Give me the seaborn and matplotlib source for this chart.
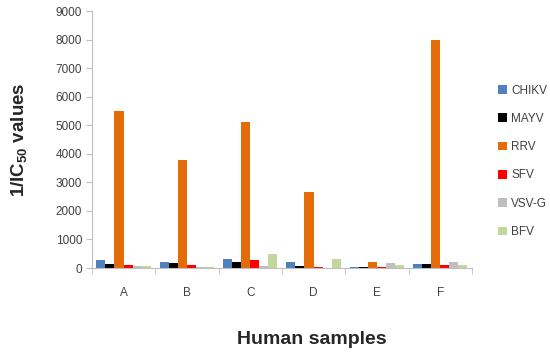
import matplotlib
matplotlib.use("Agg")
import matplotlib.pyplot as plt
import seaborn as sns
import pandas as pd
from matplotlib.patches import Patch

samples = ["A", "B", "C", "D", "E", "F"]
viruses = ["CHIKV", "MAYV", "RRV", "SFV", "VSV-G", "BFV"]
chikv = [280, 200, 300, 200, 20, 130]
mayv = [130, 160, 200, 80, 50, 130]
rrv = [5500, 3800, 5100, 2650, 220, 8000]
sfv = [100, 100, 270, 50, 40, 110]
vsvg = [70, 20, 70, 10, 180, 200]
bfv = [70, 20, 500, 330, 90, 110]
colors = ["#4F81BD", "#000000", "#E36C09", "#FF0000", "#BFBFBF", "#C3D69B"]

series = [chikv, mayv, rrv, sfv, vsvg, bfv]
rows = []
for v, vals in zip(viruses, series):
    for s, val in zip(samples, vals):
        rows.append({"sample": s, "virus": v, "value": val})
df = pd.DataFrame(rows)

sns.set_style("white")
plt.rcParams["font.family"] = ["Liberation Sans", "DejaVu Sans"]
plt.rcParams["mathtext.fontset"] = "custom"
plt.rcParams["mathtext.rm"] = "Liberation Sans"
plt.rcParams["mathtext.bf"] = "Liberation Sans:bold"

fig = plt.figure(figsize=(5.5, 3.55), dpi=100)
ax = fig.add_axes([0.167, 0.245, 0.691, 0.724])
sns.barplot(data=df, x="sample", y="value", hue="virus", hue_order=viruses,
            palette=colors, width=0.86, saturation=1, ax=ax, legend=False,
            linewidth=0, errorbar=None)

ax.set_ylim(0, 9000)
ax.set_yticks(range(0, 9001, 1000))
ax.set_xlim(-0.5, 5.5)
for sp in ["top", "right"]:
    ax.spines[sp].set_visible(False)
for sp in ["left", "bottom"]:
    ax.spines[sp].set_color("#BFBFBF")
    ax.spines[sp].set_linewidth(0.8)
ax.tick_params(axis="y", left=True, length=4, color="#BFBFBF", labelsize=8.5,
               labelcolor="#404040", pad=3)
ax.set_xticks([i - 0.5 for i in range(7)], minor=True)
ax.tick_params(axis="x", which="major", bottom=False, labelsize=8.5,
               labelcolor="#404040", pad=10)
ax.tick_params(axis="x", which="minor", bottom=True, length=4, color="#BFBFBF")
ax.set_xlabel("Human samples", fontsize=14, fontweight="bold")
ax.xaxis.set_label_coords(0.579, -0.245)
ax.set_ylabel("1/IC$_{\\mathbf{50}}$ values", fontsize=13.5, fontweight="bold")
ax.yaxis.set_label_coords(-0.162, 0.5)

handles = [Patch(facecolor=c, edgecolor="none", label=v) for v, c in zip(viruses, colors)]
leg = fig.legend(handles=handles, loc="upper left", bbox_to_anchor=(0.897, 0.775),
                 frameon=False, fontsize=8.5, handlelength=0.75, handleheight=0.75,
                 handletextpad=0.35, labelspacing=1.38, borderaxespad=0)
for t in leg.get_texts():
    t.set_color("#404040")

fig.savefig("out.png", dpi=100)
